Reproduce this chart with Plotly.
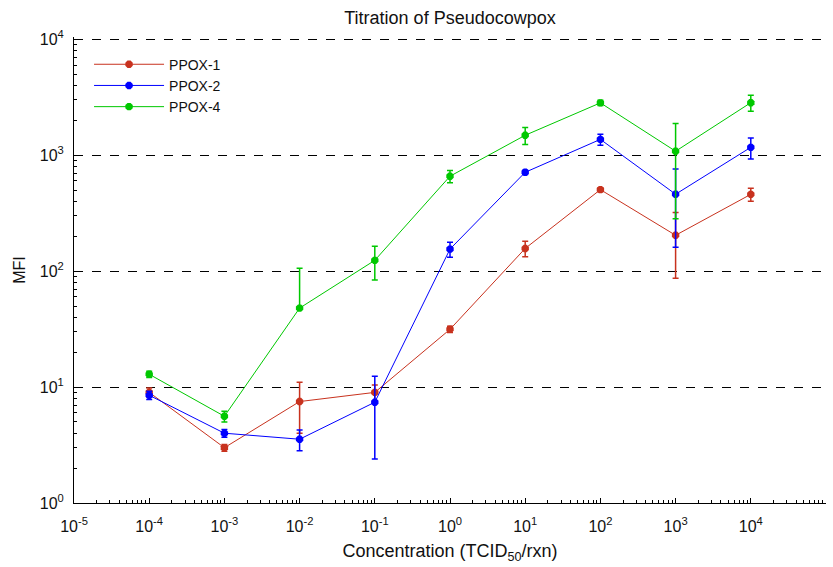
import plotly.graph_objects as go

conc = [1e-4, 1e-3, 1e-2, 1e-1, 1e0, 1e1, 1e2, 1e3, 1e4]

ppox1 = [9.0, 3.0, 7.5, 9.0, 31.5, 157, 505, 204, 460]
ppox1_err_up = [0.8, 0.2, 3.5, 1.4, 2.0, 24, 20, 117, 60]
ppox1_err_dn = [0.8, 0.2, 3.5, 1.4, 2.0, 24, 20, 117, 60]

ppox2 = [8.5, 4.0, 3.55, 7.4, 155, 713, 1370, 461, 1170]
ppox2_err_up = [0.7, 0.3, 0.72, 5.0, 23, 30, 150, 300, 240]
ppox2_err_dn = [0.7, 0.3, 0.72, 5.0, 23, 30, 150, 300, 240]

ppox4 = [12.9, 5.6, 48, 124, 659, 1487, 2830, 1083, 2840]
ppox4_err_up = [0.8, 0.6, 58, 40, 80, 250, 150, 800, 450]
ppox4_err_dn = [0.8, 0.6, 0, 40, 80, 250, 150, 800, 450]

series = [
    ("PPOX-1", ppox1, ppox1_err_up, ppox1_err_dn, "#c8321e"),
    ("PPOX-2", ppox2, ppox2_err_up, ppox2_err_dn, "#0000ff"),
    ("PPOX-4", ppox4, ppox4_err_up, ppox4_err_dn, "#00c800"),
]

x_tickvals = [10.0 ** k for k in range(-5, 6)]
x_ticktext = ["10<sup>%d</sup>" % k for k in range(-5, 6)]
y_tickvals = [10.0 ** k for k in range(0, 5)]
y_ticktext = ["10<sup>%d</sup>" % k for k in range(0, 5)]

fig = go.Figure()
for name, ys, eu, ed, col in series:
    fig.add_trace(go.Scatter(
        x=conc, y=ys, name=name, mode="lines+markers",
        line=dict(color=col, width=1),
        marker=dict(symbol="octagon", size=8, color=col),
        error_y=dict(type="data", symmetric=False, array=eu, arrayminus=ed,
                     color=col, thickness=1.5, width=3),
    ))

font = "Liberation Sans, Arial, sans-serif"
fig.update_layout(
    width=833, height=567,
    margin=dict(l=74, r=7, t=37, b=64),
    paper_bgcolor="white", plot_bgcolor="white",
    font=dict(family=font, size=13, color="#111111"),
    title=dict(text="Titration of Pseudocowpox", x=0.5, xref="paper", xanchor="center",
               y=0.968, yanchor="middle", font=dict(size=18)),
    showlegend=True,
    legend=dict(x=0.02, y=0.975, xanchor="left", yanchor="top",
                bgcolor="rgba(0,0,0,0)", borderwidth=0,
                font=dict(size=14), itemwidth=70, tracegroupgap=0),
    xaxis=dict(
        type="log", range=[-5, 5], tickvals=x_tickvals, ticktext=x_ticktext,
        showgrid=False, zeroline=False, showline=True, linecolor="black", linewidth=1,
        ticks="inside", ticklen=5, tickcolor="black",
        minor=dict(ticks="inside", ticklen=3, tickcolor="black", dtick="D1", showgrid=False),
        tickfont=dict(size=16), ticklabelstandoff=9,
        title=dict(text="Concentration (TCID<sub>50</sub>/rxn)", font=dict(size=18), standoff=10),
    ),
    yaxis=dict(
        type="log", range=[0, 4.02], tickvals=y_tickvals, ticktext=y_ticktext,
        showgrid=True, gridcolor="black", griddash="dash", gridwidth=1,
        zeroline=False, showline=True, linecolor="black", linewidth=1,
        ticks="inside", ticklen=5, tickcolor="black",
        minor=dict(ticks="inside", ticklen=3, tickcolor="black", dtick="D1", showgrid=False),
        tickfont=dict(size=16), ticklabelstandoff=6,
        title=dict(text="MFI", font=dict(size=16), standoff=10),
    ),
)

fig.write_html("out.html")
